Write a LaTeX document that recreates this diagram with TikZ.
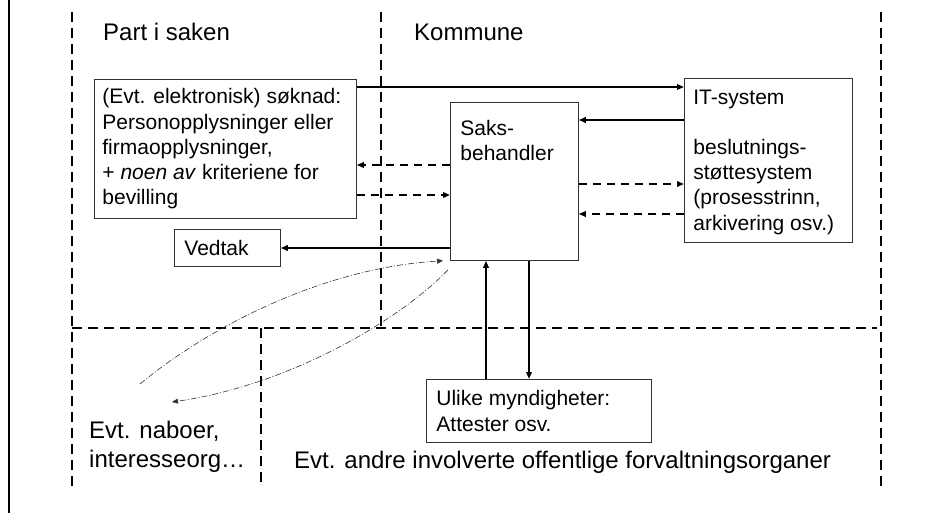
\documentclass[tikz,border=0pt]{standalone}
\usepackage{fontspec}
\setmainfont{Liberation Sans}
\usetikzlibrary{arrows.meta}

\begin{document}
\begin{tikzpicture}[x=1pt,y=-1pt,
	box/.style={draw=black!80,line width=0.8pt,anchor=north west,align=flush left,inner xsep=10pt,font=\fontsize{21}{25.2}\selectfont},
	area/.style={font=\fontsize{24}{28.8}\selectfont,inner sep=0pt,anchor=west,align=left},
	sep/.style={line width=1.6pt,dash pattern=on 10pt off 6pt},
	link/.style={-{Triangle[length=7pt,width=5.5pt]},line width=1.8pt},
	dlink/.style={link,dash pattern=on 8pt off 6pt},
	hint/.style={-{Triangle[length=6pt,width=5pt]},line width=0.6pt,black!80,dash pattern=on 6pt off 2pt on 1pt off 2pt}]
	\useasboundingbox (0,0) rectangle (952,513);
	% frame edge and region borders
	\draw[line width=2.5pt] (9,0) -- (9,513);
	\draw[sep] (72,12) -- (72,487) (381,12) -- (381,328) (881,12) -- (881,487)
		(261,328) -- (261,487) (72,328) -- (877,328);
	% region labels
	\node[area] (part) at (103,32) {Part i saken};
	\node[area] (kommune) at (414,32) {Kommune};
	\node[area] (naboer) at (89,447) {Evt. naboer,\\interesseorg…};
	\node[area] (andre) at (294,462) {Evt. andre involverte offentlige forvaltningsorganer};
	% boxes
	\node[box,inner xsep=8pt,text width=246pt,minimum height=139pt] (soknad) at (94,79)
		{(Evt. elektronisk) søknad:\\Personopplysninger eller\\firmaopplysninger,\\+ \textit{noen av} kriteriene for\\bevilling};
	\node[box,minimum width=128pt,minimum height=158pt,
		label={[box,draw=none,inner ysep=18pt]north west:Saks-\\behandler}] (saks) at (450,102) {};
	\node[box,inner xsep=9pt,inner ysep=7pt,text width=150pt,minimum height=164pt] (itsys) at (684,78)
		{\strut IT-system\\[25.2pt]beslutnings-\\støttesystem\\(prosesstrinn,\\arkivering osv.)};
	\node[box,text width=86pt,minimum height=37pt] (vedtak) at (174,229) {Vedtak};
	\node[box,text width=205pt,minimum height=63pt] (ulike) at (426,379) {Ulike myndigheter:\\Attester osv.};
	% flows
	\path[link]
		(soknad.east |- 0,87) edge (itsys.west |- 0,87)
		(itsys.west |- 0,120) edge (saks.east |- 0,120)
		(saks.west |- 0,248) edge (vedtak.east |- 0,248)
		(ulike.north -| 486,0) edge (saks.south -| 486,0)
		(saks.south -| 529,0) edge (ulike.north -| 529,0);
	\path[dlink]
		(saks.west |- 0,165) edge (soknad.east |- 0,165)
		(soknad.east |- 0,195) edge (saks.west |- 0,195)
		(saks.east |- 0,184) edge (itsys.west |- 0,184)
		(itsys.west |- 0,214) edge (saks.east |- 0,214);
	\coordinate (nb1) at (140,384);
	\coordinate (nb2) at (172,402);
	\draw[hint] (nb1) .. controls (205,330) and (320,268) .. ([xshift=-7pt]saks.south west);
	\draw[hint] ([shift={(-2pt,-9pt)}]saks.south west) .. controls (400,320) and (290,385) .. (nb2);
\end{tikzpicture}
\end{document}
